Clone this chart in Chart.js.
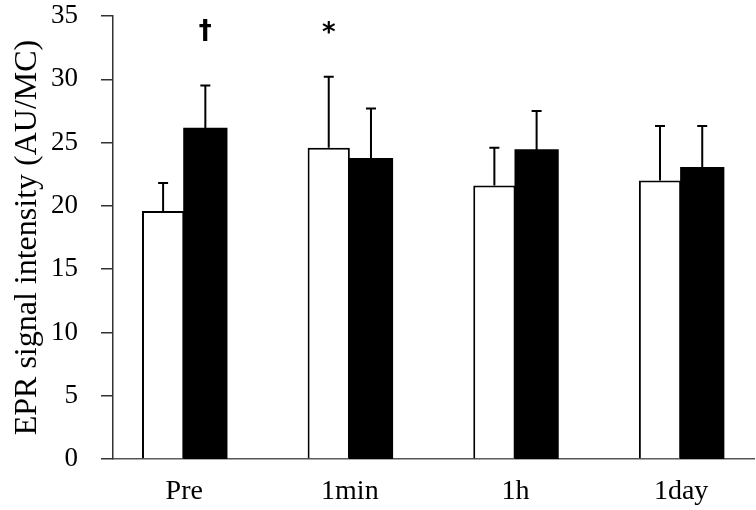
<!DOCTYPE html>
<html>
<head>
<meta charset="utf-8">
<script src="https://cdn.jsdelivr.net/npm/chart.js@4.4.1/dist/chart.umd.min.js"></script>
<style>
  html, body { margin: 0; padding: 0; background: #fff; }
  #wrap { width: 756px; height: 510px; }
</style>
</head>
<body>
<div id="wrap"><canvas id="grafico"></canvas></div>
<script>
// categorias e valores
const categorias = ["Pre", "1min", "1h", "1day"];
const serieBranca = [19.6, 24.6, 21.6, 22.0];
const erroBranca = [2.2, 5.6, 3.0, 4.3];
const seriePreta = [26.1, 23.7, 24.4, 23.0];
const erroPreta = [3.4, 4.0, 3.1, 3.3];
// marcas de significância: [categoria, série, texto]
const marcas = [[0, 1, "\u2020"], [1, 0, "*"]];
const yTicks = [0, 5, 10, 15, 20, 25, 30, 35];

const fonte = "'Liberation Serif', 'Times New Roman', serif";

const pontos = (vals) => vals.map((v, i) => ({ x: i, y: v }));

// barras de erro (só para cima) e marcas
const pluginErros = {
  id: "erros",
  afterDatasetsDraw(chart) {
    const ctx = chart.ctx;
    const y = chart.scales.y;
    const erros = [erroBranca, erroPreta];
    ctx.save();
    ctx.strokeStyle = "#000";
    ctx.lineWidth = 2;
    chart.data.datasets.forEach((ds, d) => {
      const meta = chart.getDatasetMeta(d);
      meta.data.forEach((bar, i) => {
        const v = ds.data[i].y;
        const topo = y.getPixelForValue(v + erros[d][i]);
        ctx.beginPath();
        ctx.moveTo(bar.x, bar.y);
        ctx.lineTo(bar.x, topo);
        ctx.moveTo(bar.x - 5, topo);
        ctx.lineTo(bar.x + 5, topo);
        ctx.stroke();
      });
    });
    ctx.fillStyle = "#000";
    ctx.textAlign = "center";
    ctx.textBaseline = "middle";
    ctx.font = "bold 26px 'DejaVu Sans', sans-serif";
    marcas.forEach(([cat, serie, txt]) => {
      const bar = chart.getDatasetMeta(serie).data[cat];
      ctx.fillText(txt, bar.x, y.getPixelForValue(33.7) + (txt === "*" ? 2 : 0));
    });
    ctx.restore();
  }
};

new Chart(document.getElementById("grafico"), {
  type: "bar",
  data: {
    datasets: [
      {
        label: "branco",
        data: pontos(serieBranca),
        backgroundColor: "#fff",
        borderColor: "#000",
        borderWidth: 2,
        categoryPercentage: 0.51,
        barPercentage: 1
      },
      {
        label: "preto",
        data: pontos(seriePreta),
        backgroundColor: "#000",
        borderColor: "#000",
        borderWidth: 0,
        inflateAmount: 1,
        categoryPercentage: 0.51,
        barPercentage: 1
      }
    ]
  },
  options: {
    responsive: true,
    maintainAspectRatio: false,
    animation: false,
    layout: { padding: { left: 8, right: 2, top: 0, bottom: 0 } },
    plugins: {
      legend: { display: false },
      tooltip: { enabled: false }
    },
    scales: {
      x: {
        type: "linear",
        offset: false,
        min: -0.43,
        max: 3.44,
        afterBuildTicks: (s) => { s.ticks = categorias.map((_, i) => ({ value: i })); },
        afterFit: (s) => { s.height = 51; s.paddingLeft = 0; s.paddingRight = 0; },
        grid: { display: false, drawTicks: false },
        border: { display: true, color: "#555", width: 1.5 },
        ticks: {
          color: "#000",
          font: { family: fonte, size: 28 },
          padding: 16,
          maxRotation: 0,
          autoSkip: false,
          callback: (v) => categorias[v] ?? ""
        }
      },
      y: {
        min: 0,
        max: 35,
        afterBuildTicks: (s) => { s.ticks = yTicks.map((v) => ({ value: v })); },
        afterFit: (s) => { s.width = 105; s.paddingTop = 16; s.paddingBottom = 0; },
        grid: { drawOnChartArea: false, tickLength: 12, color: "#333", lineWidth: 1.5 },
        border: { display: true, color: "#333", width: 1.5 },
        ticks: {
          color: "#000",
          font: { family: fonte, size: 27 },
          padding: 23
        },
        title: {
          display: true,
          text: "EPR signal intensity (AU/MC)",
          color: "#000",
          font: { family: fonte, size: 32 },
          padding: { top: 0, bottom: 8 }
        }
      }
    }
  },
  plugins: [pluginErros]
});
</script>
</body>
</html>
